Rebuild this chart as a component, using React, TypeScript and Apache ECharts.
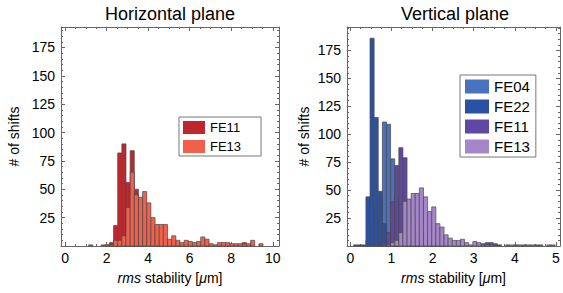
import React, { useEffect, useRef } from 'react';
import * as echarts from 'echarts';

// ---- Horizontal plane histogram (bin edges: H_BIN_START + i * H_BIN_WIDTH)
const H_BIN_START = -0.07;
const H_BIN_WIDTH = 0.2;
const hFE11 = [0, 0, 0, 0, 0, 0, 0, 0, 0, 0, 1, 3, 18, 82, 90, 56, 84, 50, 30, 22, 14, 9, 6, 4, 3, 2, 2, 1, 1, 1, 1, 0, 1, 0, 1, 0, 0, 1, 2, 1, 0, 1, 0, 3, 1, 0, 0, 0];
const hFE13 = [0, 0, 0, 0, 0, 0, 1, 0, 0, 1, 1, 1, 5, 5, 9, 34, 65, 45, 43, 48, 38, 25, 19, 19, 19, 6, 9, 5, 3, 5, 4, 3, 4, 8, 6, 2, 1, 3, 3, 3, 2, 2, 2, 2, 2, 5, 0, 2];

// ---- Vertical plane histogram (bin edges: V_BIN_START + i * V_BIN_WIDTH)
const V_BIN_START = -0.02;
const V_BIN_WIDTH = 0.1;
const vFE04 = [0, 0, 0, 0, 5, 20, 35, 45, 111, 109, 78, 45, 22, 10, 4, 2, 1, 0, 0, 0, 0, 0, 0, 0, 0, 0, 0, 0, 0, 0, 0, 0, 0, 0, 0, 0, 0, 0, 1, 0, 1, 0, 1, 0, 0, 1, 1, 0, 0, 0, 0, 0];
const vFE22 = [0, 1, 1, 1, 44, 186, 115, 49, 20, 8, 3, 1, 0, 0, 0, 0, 0, 0, 0, 0, 0, 0, 0, 0, 0, 0, 0, 0, 0, 0, 0, 0, 0, 0, 0, 0, 0, 0, 0, 0, 0, 0, 0, 0, 0, 0, 0, 0, 0, 0, 0, 0];
const vFE11 = [0, 0, 0, 0, 0, 0, 0, 0, 3, 12, 40, 72, 88, 79, 40, 28, 20, 13, 8, 5, 3, 2, 1, 1, 0, 0, 0, 0, 0, 0, 0, 0, 2, 3, 3, 2, 1, 0, 0, 0, 0, 0, 0, 0, 0, 0, 0, 0, 0, 0, 0, 0];
const vFE13 = [0, 0, 0, 0, 0, 0, 0, 0, 0, 1, 3, 5, 12, 40, 42, 47, 47, 52, 44, 31, 35, 20, 17, 10, 7, 5, 5, 6, 3, 1, 4, 3, 1, 1, 1, 0, 0, 0, 0, 1, 0, 1, 0, 1, 1, 0, 0, 0, 1, 1, 0, 0];

const H_TITLE = 'Horizontal plane';
const V_TITLE = 'Vertical plane';

const FONT = 'Liberation Sans, Arial, sans-serif';
const FRAME = '#666666';
const EDGE = '#4a4a4a';

function bins(counts: number[], start: number, width: number) {
  return counts
    .map((c, i) => [start + i * width, start + (i + 1) * width, c])
    .filter((d) => d[2] > 0);
}

function histSeries(name: string, color: string, data: number[][], gridIdx: number) {
  return {
    type: 'custom',
    name,
    xAxisIndex: gridIdx * 2,
    yAxisIndex: gridIdx * 2,
    itemStyle: { color, borderColor: color, borderWidth: 0 },
    encode: { x: [0, 1], y: 2 },
    data,
    renderItem: (params: any, api: any) => {
      const p0 = api.coord([api.value(0), api.value(2)]);
      const p1 = api.coord([api.value(1), 0]);
      return {
        type: 'rect',
        shape: { x: p0[0], y: p0[1], width: p1[0] - p0[0], height: p1[1] - p0[1] },
        style: { fill: color, stroke: EDGE, lineWidth: 0.7 },
      };
    },
  };
}

function xAxes(gridIndex: number, min: number, max: number) {
  const common = {
    type: 'value',
    gridIndex,
    min,
    max,
    splitLine: { show: false },
    axisLine: { show: true, onZero: false, lineStyle: { color: FRAME, width: 1 } },
    axisTick: { show: true, inside: true, length: 4, lineStyle: { color: FRAME } },
    minorTick: { show: true, splitNumber: 4, length: 2, lineStyle: { color: FRAME } },
  };
  return [
    {
      ...common,
      position: 'bottom',
      axisLabel: {
        color: '#000',
        fontSize: 14,
        fontFamily: FONT,
        margin: 5,
        formatter: (v: number) => (v >= 0 && Math.abs(v - Math.round(v)) < 1e-6 ? String(Math.round(v)) : ''),
      },
      name: '{i|rms} stability [{i|μ}m]',
      nameLocation: 'middle',
      nameGap: 25,
      nameTextStyle: {
        color: '#000',
        fontSize: 14,
        fontFamily: FONT,
        rich: { i: { fontStyle: 'italic', fontSize: 14, fontFamily: FONT, color: '#000' } },
      },
    },
    { ...common, position: 'top', axisLabel: { show: false } },
  ];
}

function yAxes(gridIndex: number, max: number, nameGap: number) {
  const common = {
    type: 'value',
    gridIndex,
    min: 0,
    max,
    interval: 25,
    splitLine: { show: false },
    axisLine: { show: true, onZero: false, lineStyle: { color: FRAME, width: 1 } },
    axisTick: { show: true, inside: true, length: 4, lineStyle: { color: FRAME } },
    minorTick: { show: true, splitNumber: 5, length: 2, lineStyle: { color: FRAME } },
  };
  return [
    {
      ...common,
      position: 'left',
      axisLabel: {
        color: '#000',
        fontSize: 14,
        fontFamily: FONT,
        margin: 6,
        formatter: (v: number) => (v > 0 && v % 25 === 0 ? String(v) : ''),
      },
      name: '# of shifts',
      nameLocation: 'middle',
      nameRotate: 90,
      nameGap,
      nameTextStyle: { color: '#000', fontSize: 14, fontFamily: FONT },
    },
    { ...common, position: 'right', axisLabel: { show: false } },
  ];
}

export default function App() {
  const ref = useRef<HTMLDivElement>(null);
  useEffect(() => {
    if (!ref.current) return;
    const chart = echarts.init(ref.current, undefined, { renderer: 'svg' });
    const option = {
      animation: false,
      backgroundColor: '#fff',
      grid: [
        { left: 61, right: 284, top: 27, bottom: 47, show: false },
        { left: 347, right: 1, top: 27, bottom: 47, show: false },
      ],
      xAxis: [...xAxes(0, -0.2, 10.3), ...xAxes(1, -0.08, 5.1)],
      yAxis: [...yAxes(0, 193, 40), ...yAxes(1, 196, 36)],
      legend: [
        {
          data: ['hFE11', 'hFE13'],
          left: 179,
          top: 117,
          orient: 'vertical',
          icon: 'rect',
          itemWidth: 22,
          itemHeight: 13,
          itemGap: 6,
          padding: [4, 20, 3, 4],
          borderColor: '#777',
          borderWidth: 1,
          backgroundColor: '#fff',
          selectedMode: false,
          formatter: (n: string) => n.slice(1),
          textStyle: { color: '#000', fontSize: 13, fontFamily: FONT },
        },
        {
          data: ['vFE04', 'vFE22', 'vFE11', 'vFE13'],
          left: 460,
          top: 75,
          orient: 'vertical',
          icon: 'rect',
          itemWidth: 24,
          itemHeight: 14,
          itemGap: 5,
          padding: [4, 6, 3, 5],
          borderColor: '#777',
          borderWidth: 1,
          backgroundColor: '#fff',
          selectedMode: false,
          formatter: (n: string) => n.slice(1),
          textStyle: { color: '#000', fontSize: 15, fontFamily: FONT },
        },
      ],
      graphic: [
        {
          type: 'text',
          x: 170,
          y: 14,
          style: { text: H_TITLE, fontSize: 18, fontFamily: FONT, fill: '#000', align: 'center', verticalAlign: 'middle' },
        },
        {
          type: 'text',
          x: 455,
          y: 14,
          style: { text: V_TITLE, fontSize: 18, fontFamily: FONT, fill: '#000', align: 'center', verticalAlign: 'middle' },
        },
      ],
      series: [
        histSeries('hFE11', '#c0262d', bins(hFE11, H_BIN_START, H_BIN_WIDTH), 0),
        histSeries('hFE13', '#f0604a', bins(hFE13, H_BIN_START, H_BIN_WIDTH), 0),
        histSeries('vFE04', '#4a71be', bins(vFE04, V_BIN_START, V_BIN_WIDTH), 1),
        histSeries('vFE22', '#2b51a4', bins(vFE22, V_BIN_START, V_BIN_WIDTH), 1),
        histSeries('vFE11', '#5f47a3', bins(vFE11, V_BIN_START, V_BIN_WIDTH), 1),
        histSeries('vFE13', '#a486c9', bins(vFE13, V_BIN_START, V_BIN_WIDTH), 1),
      ],
    };
    chart.setOption(option as any);
    return () => chart.dispose();
  }, []);
  return <div ref={ref} style={{ position: 'fixed', left: 0, top: 0, width: 563, height: 293 }} />;
}
